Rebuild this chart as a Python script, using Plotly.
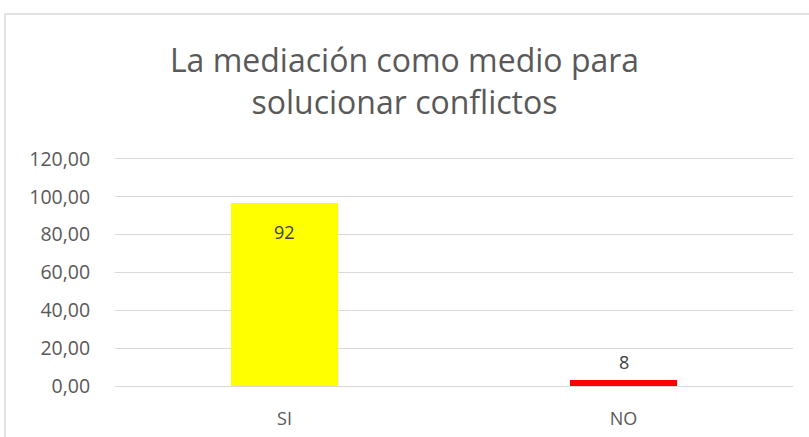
import plotly.graph_objects as go

categorias = ['SI', 'NO']
valores = [96.67, 3.33]
etiquetas = ['92', '8']
colores = ['#FFFF00', '#FF0000']
desplazamiento = [-29, 18]

fig = go.Figure()
fig.add_trace(go.Bar(
    x=categorias, y=valores,
    marker=dict(color=colores, line=dict(width=0)),
    width=0.315,
    hoverinfo='x+y',
))

# etiquetas de datos
for c, v, t, d in zip(categorias, valores, etiquetas, desplazamiento):
    fig.add_annotation(x=c, y=v, text=t, showarrow=False, yshift=d,
                       font=dict(family='Open Sans', size=18, color='#404040'))

fig.update_layout(
    width=809, height=437,
    margin=dict(l=115, r=16, t=157, b=51, autoexpand=False),
    paper_bgcolor='white', plot_bgcolor='white',
    separators=',.',
    showlegend=False,
    title=dict(
        text='La mediación como medio para<br>solucionar conflictos',
        x=0.5, xanchor='center', y=1 - 72/437, yanchor='middle',
        font=dict(family='Open Sans', size=32, color='#595959'),
    ),
    font=dict(family='Open Sans', color='#595959'),
    bargap=0,
)
fig.update_yaxes(
    range=[0, 121], tickvals=[0, 20, 40, 60, 80, 100, 120], tickformat='.2f',
    showgrid=True, gridcolor='#d9d9d9', gridwidth=1,
    zeroline=True, zerolinecolor='#d9d9d9', zerolinewidth=1,
    showline=False, ticks='outside', ticklen=20, tickcolor='rgba(0,0,0,0)',
    tickfont=dict(family='Open Sans', size=19.5, color='#595959'),
    automargin=False,
)
fig.update_xaxes(
    showgrid=False, showline=False, ticks='outside', ticklen=16,
    tickcolor='rgba(0,0,0,0)',
    tickfont=dict(family='Open Sans', size=18, color='#595959'),
    automargin=False,
)
# borde del grafico
fig.add_shape(type='rect', xref='paper', yref='paper',
              x0=-110/678, x1=1 + 40/678, y0=-60/229, y1=1 + 143/229,
              line=dict(color='#d9d9d9', width=1.5), fillcolor='rgba(0,0,0,0)')

fig.write_html('out.html', config={'displayModeBar': False},
               post_script="document.body.style.margin='0';")
